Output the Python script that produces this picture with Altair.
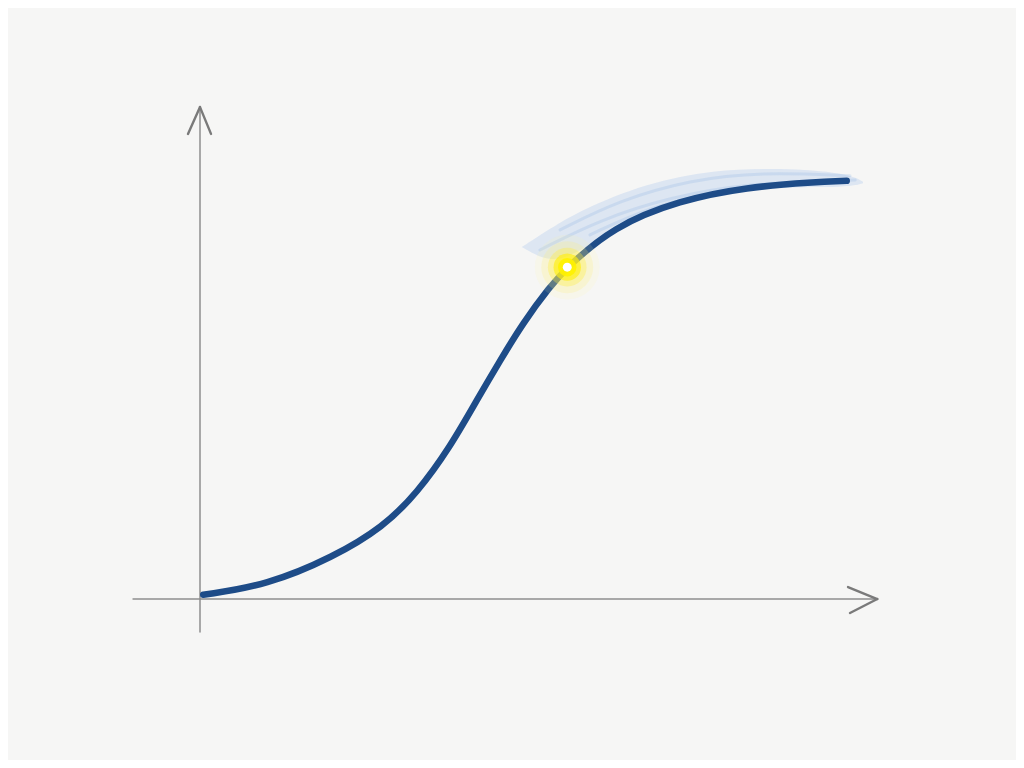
import altair as alt
import pandas as pd

# --- data (x: 0..10 along the horizontal axis, y: 0..1 along the vertical) ---
curve_x = [0.05, 1.03, 2.05, 2.82, 3.34, 3.85, 4.26, 4.62, 4.97, 5.38, 5.65, 6.35, 7.38, 8.42, 9.43, 9.95]
curve_y = [0.01, 0.033, 0.10, 0.172, 0.253, 0.363, 0.475, 0.570, 0.659, 0.745, 0.792, 0.888, 0.952, 0.983, 0.995, 0.998]

# light blue pencil shading above the upper part of the curve
shade_x = [4.95, 5.40, 5.85, 6.88, 7.89, 8.92, 9.95, 10.20]
shade_lo = [0.84, 0.80, 0.83, 0.92, 0.965, 0.985, 0.982, 0.992]
shade_hi = [0.84, 0.885, 0.928, 0.993, 1.024, 1.029, 1.017, 0.996]

# individual pencil streaks inside the shading
streak_id = ["a"] * 5 + ["b"] * 5 + ["c"] * 4
streak_x = [5.54, 6.46, 7.54, 8.62, 10.0,
            5.23, 6.15, 7.23, 8.46, 10.08,
            6.00, 6.92, 8.00, 9.23]
streak_y = [0.881, 0.952, 1.000, 1.019, 1.010,
            0.833, 0.905, 0.959, 0.993, 1.000,
            0.869, 0.936, 0.976, 0.995]

# highlighted point
hi_x = [5.65]
hi_y = [0.792]

# axes (lines and arrow heads)
axis_x0 = [-1.03, 0.0]
axis_y0 = [0.0, -0.079]
axis_x1 = [10.42, 0.0]
axis_y1 = [0.0, 1.174]
arrow_tip_x = [0.0, 0.0, 10.42, 10.42]
arrow_tip_y = [1.174, 1.174, 0.0, 0.0]
arrow_end_x = [-0.185, 0.169, 9.97, 10.0]
arrow_end_y = [1.110, 1.110, 0.0286, -0.0334]

# --- page geometry ---
W, H = 1008, 752
X_DOM = [-2.954, 12.554]
Y_DOM = [-0.3842, 1.4105]

xs = alt.Scale(domain=X_DOM, nice=False, zero=False)
ys = alt.Scale(domain=Y_DOM, nice=False, zero=False)

curve_df = pd.DataFrame({"x": curve_x, "y": curve_y})
shade_df = pd.DataFrame({"x": shade_x, "lo": shade_lo, "hi": shade_hi})
streak_df = pd.DataFrame({"g": streak_id, "x": streak_x, "y": streak_y})
pt_df = pd.DataFrame({"x": hi_x, "y": hi_y})
axes_df = pd.DataFrame({"x": axis_x0, "y": axis_y0, "x2": axis_x1, "y2": axis_y1})
arrows_df = pd.DataFrame({"x": arrow_tip_x, "y": arrow_tip_y, "x2": arrow_end_x, "y2": arrow_end_y})

X = alt.X("x:Q", scale=xs, axis=None)
Y = alt.Y("y:Q", scale=ys, axis=None)

axes = alt.Chart(axes_df).mark_rule(color="#8e8e8e", strokeWidth=1.5, strokeCap="round").encode(
    x=X, y=Y, x2="x2:Q", y2="y2:Q")
arrows = alt.Chart(arrows_df).mark_rule(color="#7a7a7a", strokeWidth=2.4, strokeCap="round").encode(
    x=X, y=Y, x2="x2:Q", y2="y2:Q")

shade = alt.Chart(shade_df).mark_area(color="#8fb5ea", opacity=0.24, interpolate="basis").encode(
    x=X, y=alt.Y("lo:Q", scale=ys, axis=None), y2="hi:Q")

streaks = alt.Chart(streak_df).mark_line(color="#6d9fe0", strokeWidth=3, opacity=0.18,
                                         strokeCap="round", interpolate="basis").encode(
    x=X, y=Y, detail="g:N")

curve = alt.Chart(curve_df).mark_line(color="#1e4c88", strokeWidth=6.5, strokeCap="round",
                                      interpolate="basis").encode(x=X, y=Y)

glow_layers = []
for size, color, op in [(4200, "#fff59a", 0.12), (2700, "#fff270", 0.20), (1500, "#ffee40", 0.35),
                        (750, "#ffee10", 0.65), (340, "#fff200", 0.9)]:
    glow_layers.append(alt.Chart(pt_df).mark_circle(size=size, color=color, opacity=op).encode(x=X, y=Y))
dot = alt.Chart(pt_df).mark_circle(size=80, color="#ffffff", opacity=1).encode(x=X, y=Y)

chart = alt.layer(axes, arrows, shade, streaks, curve, *glow_layers, dot).properties(
    width=W, height=H, padding=0, background="#f6f6f5"
).configure_view(stroke=None)

chart.save("out.html", embed_options={"renderer": "svg", "actions": False})
